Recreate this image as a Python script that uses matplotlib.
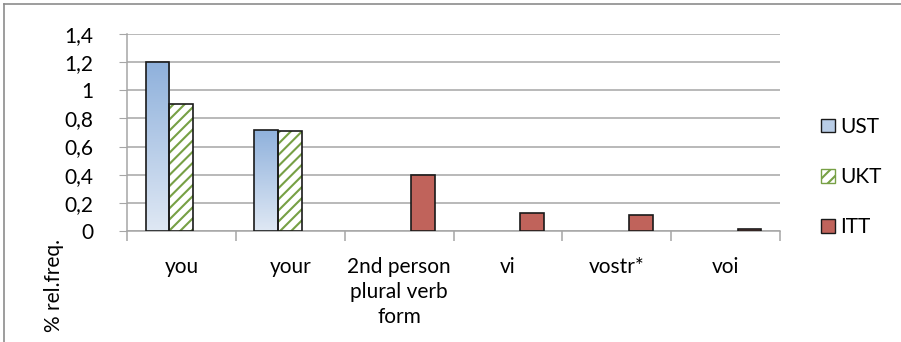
import numpy as np
import matplotlib
matplotlib.use("Agg")
import matplotlib.pyplot as plt
from matplotlib.patches import Patch
from matplotlib.lines import Line2D

categories = ["you", "your", "2nd person\nplural verb\nform", "vi", "vostr*", "voi"]
ust = [1.20, 0.72, 0, 0, 0, 0]
ukt = [0.90, 0.71, 0, 0, 0, 0]
itt = [0, 0, 0.40, 0.13, 0.115, 0.015]
series_names = ["UST", "UKT", "ITT"]
yticks = [0, 0.2, 0.4, 0.6, 0.8, 1.0, 1.2, 1.4]
ytick_labels = ["0", "0,2", "0,4", "0,6", "0,8", "1", "1,2", "1,4"]

plt.rcParams["font.family"] = ["Lato", "DejaVu Sans"]
plt.rcParams["hatch.linewidth"] = 1.5
FS = 15

W, H = 901, 342
fig = plt.figure(figsize=(W / 100, H / 100), dpi=100)
ax = fig.add_axes([127 / W, 1 - 231 / H, (780 - 127) / W, (231 - 34) / H])

grid_col = "#a6a6a6"
x = np.arange(len(categories))
bw = 0.22

# gridlines
ax.set_ylim(0, 1.4)
ax.set_xlim(-0.5, len(categories) - 0.5)
for yv in yticks:
    ax.axhline(yv, color=grid_col, lw=1.1, zorder=0)

# UST bars with vertical gradient fill
grad = np.linspace(0, 1, 256)
top_c = np.array([0x8f, 0xb1, 0xdc]) / 255
bot_c = np.array([0xdf, 0xe8, 0xf4]) / 255
for xi, v in zip(x, ust):
    if v <= 0:
        continue
    b = ax.bar(xi - bw, v, bw, facecolor="none", edgecolor="#1a1a1a", lw=1.2, zorder=4)[0]
    img = np.zeros((256, 1, 3))
    for k in range(3):
        img[:, 0, k] = bot_c[k] + (top_c[k] - bot_c[k]) * grad
    im = ax.imshow(img, extent=(xi - 1.5 * bw, xi - 0.5 * bw, 0, v), origin="lower",
                   aspect="auto", zorder=3, interpolation="bilinear")
    im.set_clip_path(b)

# UKT hatched bars
green = "#77a045"
for xi, v in zip(x, ukt):
    if v <= 0:
        continue
    ax.bar(xi, v, bw, facecolor="white", edgecolor=green, hatch="///", lw=0, zorder=3)
    ax.bar(xi, v, bw, facecolor="none", edgecolor="#1a1a1a", lw=1.2, zorder=4)

# ITT bars
red = "#c0635b"
for xi, v in zip(x, itt):
    if v <= 0:
        continue
    ax.bar(xi + bw, v, bw, facecolor=red, edgecolor="#1a1a1a", lw=1.2, zorder=4)

ax.set_xlim(-0.5, len(categories) - 0.5)
ax.set_ylim(0, 1.4)

for s in ["top", "right"]:
    ax.spines[s].set_visible(False)
for s in ["left", "bottom"]:
    ax.spines[s].set_color(grid_col)
    ax.spines[s].set_linewidth(1.1)

ax.set_yticks(yticks)
ax.set_yticklabels(ytick_labels, fontsize=FS)
ax.tick_params(axis="y", length=6, color=grid_col, pad=18)

ax.set_xticks(x)
ax.set_xticklabels(categories, fontsize=FS, linespacing=1.3, va="top")
ax.tick_params(axis="x", which="major", length=0, pad=19)
ax.set_xticks(np.arange(-0.5, len(categories)), minor=True)
ax.tick_params(axis="x", which="minor", length=7, color=grid_col, width=1.1)

fig.text(54 / W, 1 - 286 / H, "% rel.freq.", rotation=90, fontsize=FS,
         ha="center", va="center")

handles = [
    Patch(facecolor="#b9cde6", edgecolor="#1a1a1a", lw=1.0),
    Patch(facecolor="white", edgecolor=green, hatch="///", lw=1.0),
    Patch(facecolor=red, edgecolor="#1a1a1a", lw=1.0),
]
fig.legend(handles, series_names, loc="center left", bbox_to_anchor=(811 / W, 1 - 177 / H),
           frameon=False, fontsize=FS, handlelength=0.65, handleheight=0.65,
           handletextpad=0.25, labelspacing=1.45, borderpad=0)

# figure frame
fig.add_artist(Line2D([4 / W, 4 / W], [0, 1 - 4 / H], color="#8c8c8c", lw=1.2))
fig.add_artist(Line2D([4 / W, 1], [1 - 4 / H, 1 - 4 / H], color="#8c8c8c", lw=1.2))

fig.savefig("out.png", dpi=100)
